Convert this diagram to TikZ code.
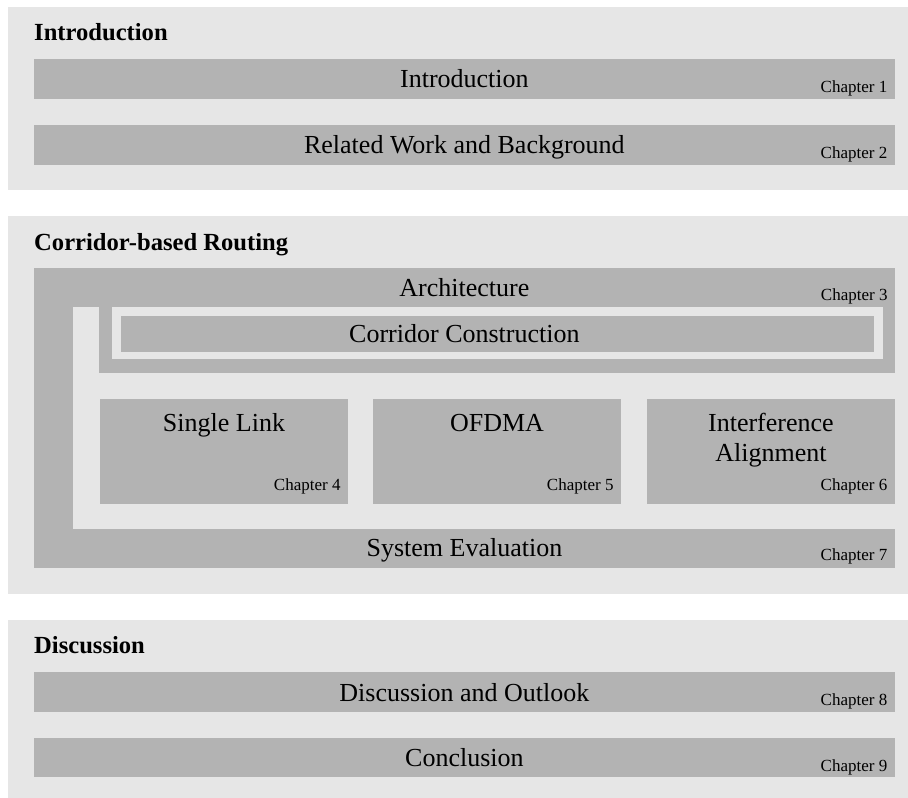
\documentclass[tikz,border=0pt]{standalone}
\usepackage{fontspec}
\setmainfont{Liberation Serif}
\usetikzlibrary{fit}
\definecolor{bgc}{RGB}{230,230,230}
\definecolor{boxc}{RGB}{179,179,179}
\begin{document}
\begin{tikzpicture}[x=1pt,y=-1pt,
  sect/.style={fill=bgc, draw=none, inner sep=0pt, outer sep=0pt},
  bar/.style={fill=boxc, draw=none, inner sep=0pt, outer sep=0pt},
  hole/.style={fill=bgc, draw=none, inner sep=0pt, outer sep=0pt},
  title/.style={font=\fontsize{24.6}{29}\selectfont\bfseries, anchor=base west, inner sep=0pt},
  maintext/.style={font=\fontsize{26}{29.3}\selectfont, anchor=base, inner sep=0pt, align=center},
  chap/.style={font=\fontsize{17}{20}\selectfont, anchor=base east, inner sep=0pt}]
\useasboundingbox (0,0) rectangle (908,798);

% ---------- Section 1 ----------
\node[sect, fit={(8,7) (908,190)}] (s1) {};
\node[title] (t1) at (34,40) {Introduction};
\node[bar, fit={(34,59) (894.7,98.7)}] (b1) {};
\node[maintext] (b1t) at (464.4,87.7) {Introduction};
\node[chap] (b1c) at (887.5,92.3) {Chapter 1};
\node[bar, fit={(34,125) (894.7,164.7)}] (b2) {};
\node[maintext] (b2t) at (464.4,153.7) {Related Work and Background};
\node[chap] (b2c) at (887.5,158.3) {Chapter 2};

% ---------- Section 2 ----------
\node[sect, fit={(8,216) (908,594.3)}] (s2) {};
\node[title] (t2) at (34,250) {Corridor-based Routing};
\node[bar, fit={(34.3,268.3) (894.7,568.3)}] (sys) {};
\node[hole, fit={(73.3,307.3) (894.7,529)}] (syshole) {};
\node[bar, fit={(99.3,307.3) (894.7,372.5)}] (arch) {};
\node[hole, fit={(112.3,307.3) (882.5,359.3)}] (archhole) {};
\node[bar, fit={(121,316) (874,351.7)}] (corr) {};
\node[maintext] (archt) at (464.4,296.7) {Architecture};
\node[chap] (archc) at (887.7,300.7) {Chapter 3};
\node[maintext] (corrt) at (464.4,342.3) {Corridor Construction};
\node[maintext] (syst) at (464.4,556) {System Evaluation};
\node[chap] (sysc) at (887.5,560.7) {Chapter 7};

\node[bar, fit={(100,399) (348,503.7)}] (c4) {};
\node[maintext] (c4t) at (224,431.7) {Single Link};
\node[chap] (c4c) at (340.7,490) {Chapter 4};
\node[bar, fit={(373,399) (621,503.7)}] (c5) {};
\node[maintext] (c5t) at (497,431.7) {OFDMA};
\node[chap] (c5c) at (613.7,490) {Chapter 5};
\node[bar, fit={(647,399) (894.7,503.7)}] (c6) {};
\node[maintext] (c6t) at (770.9,461) {Interference\\Alignment};
\node[chap] (c6c) at (887.5,490) {Chapter 6};

% ---------- Section 3 ----------
\node[sect, fit={(8,620) (908,798)}] (s3) {};
\node[title] (t3) at (34,653.3) {Discussion};
\node[bar, fit={(34,672) (894.7,711.7)}] (b8) {};
\node[maintext] (b8t) at (464.4,701.2) {Discussion and Outlook};
\node[chap] (b8c) at (887.5,705.5) {Chapter 8};
\node[bar, fit={(34,738) (894.7,777.3)}] (b9) {};
\node[maintext] (b9t) at (464.4,766.7) {Conclusion};
\node[chap] (b9c) at (887.5,771.3) {Chapter 9};
\end{tikzpicture}
\end{document}
